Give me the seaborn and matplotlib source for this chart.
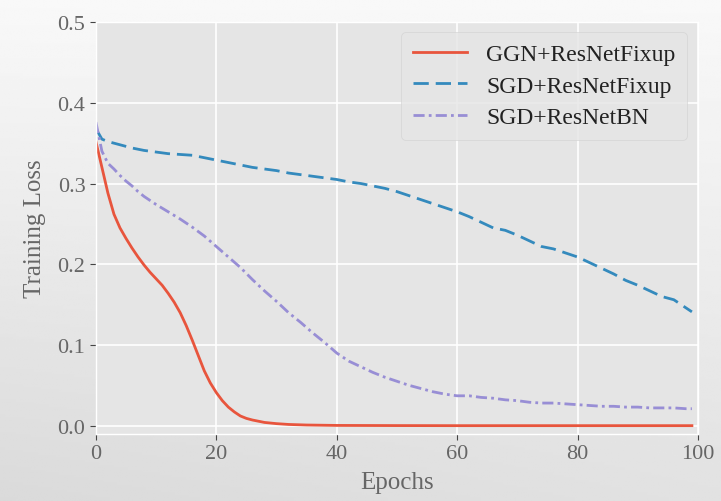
import numpy as np
import pandas as pd
import matplotlib
matplotlib.use("Agg")
import matplotlib.pyplot as plt
import seaborn as sns

# training loss curves
ggn_epochs = [0, 1, 2, 3, 4, 5, 6, 7, 8, 9, 10, 11, 12, 13, 14, 15, 16, 17, 18, 19,
              20, 21, 22, 23, 24, 25, 26, 28, 30, 32, 35, 40, 50, 60, 70, 80, 90, 99]
ggn_loss = [0.352, 0.32, 0.288, 0.262, 0.245, 0.232, 0.220, 0.209, 0.199, 0.190,
            0.182, 0.174, 0.164, 0.153, 0.140, 0.124, 0.106, 0.087, 0.068, 0.053,
            0.041, 0.031, 0.023, 0.017, 0.012, 0.009, 0.007, 0.004, 0.0025, 0.0015,
            0.0008, 0.0003, 0.0001, 0.0, 0.0, 0.0, 0.0, 0.0]

sgd_fixup_epochs = [0, 1, 2, 4, 6, 8, 10, 12, 14, 16, 18, 20, 22, 24, 26, 28, 30, 32,
                    34, 36, 38, 40, 42, 44, 46, 48, 50, 52, 54, 56, 58, 60, 62, 64,
                    66, 68, 70, 72, 74, 76, 78, 80, 82, 84, 86, 88, 90, 92, 94, 96, 98, 99]
sgd_fixup_loss = [0.368, 0.355, 0.352, 0.348, 0.344, 0.341, 0.339, 0.337, 0.336, 0.335,
                  0.332, 0.329, 0.326, 0.323, 0.320, 0.318, 0.316, 0.313, 0.311, 0.309,
                  0.307, 0.305, 0.302, 0.300, 0.297, 0.294, 0.290, 0.285, 0.280, 0.275,
                  0.270, 0.265, 0.259, 0.252, 0.245, 0.242, 0.236, 0.229, 0.222, 0.219,
                  0.214, 0.209, 0.202, 0.195, 0.188, 0.180, 0.174, 0.167, 0.160, 0.156,
                  0.146, 0.141]

sgd_bn_epochs = [0, 1, 2, 3, 4, 5, 6, 7, 8, 9, 10, 12, 14, 16, 18, 20, 22, 24, 26, 28,
                 30, 32, 34, 36, 38, 40, 42, 44, 46, 48, 50, 52, 54, 56, 58, 60, 62, 64,
                 66, 68, 70, 72, 74, 76, 78, 80, 82, 84, 86, 88, 90, 92, 94, 96, 98, 99]
sgd_bn_loss = [0.376, 0.34, 0.325, 0.318, 0.310, 0.303, 0.297, 0.290, 0.284, 0.279,
               0.274, 0.265, 0.256, 0.246, 0.235, 0.222, 0.209, 0.196, 0.181, 0.167,
               0.154, 0.140, 0.128, 0.115, 0.103, 0.090, 0.080, 0.073, 0.066, 0.060,
               0.055, 0.050, 0.046, 0.042, 0.039, 0.037, 0.037, 0.035, 0.034, 0.032,
               0.031, 0.029, 0.028, 0.028, 0.027, 0.026, 0.025, 0.024, 0.024, 0.023,
               0.023, 0.022, 0.022, 0.022, 0.021, 0.021]

labels = ["GGN+ResNetFixup", "SGD+ResNetFixup", "SGD+ResNetBN"]
colors = ["#E8553D", "#348ABD", "#988ED5"]
styles = ["-", (0, (5.5, 2.5)), (0, (4, 1.5, 1, 1.5))]

plt.style.use("ggplot")
plt.rcParams["font.family"] = ["Liberation Serif", "DejaVu Serif"]

fig = plt.figure(figsize=(7.21, 5.02), dpi=100)

# soft grey gradient behind everything
bg = fig.add_axes([0, 0, 1, 1], zorder=-1)
yy, xx = np.mgrid[0:1:200j, 0:1:200j]
shade = 0.975 - 0.09 * yy - 0.03 * (1 - xx) * yy
bg.imshow(shade, cmap="gray", vmin=0, vmax=1, aspect="auto", extent=[0, 1, 0, 1])
bg.axis("off")

ax = fig.add_axes([0.133, 0.134, 0.835, 0.82])
ax.set_facecolor("#E5E5E5")

series = [(ggn_epochs, ggn_loss), (sgd_fixup_epochs, sgd_fixup_loss), (sgd_bn_epochs, sgd_bn_loss)]
for (ep, loss), lab, col, ls in zip(series, labels, colors, styles):
    df = pd.DataFrame({"Epochs": ep, "Training Loss": loss})
    sns.lineplot(data=df, x="Epochs", y="Training Loss", ax=ax, color=col,
                 linestyle=ls, linewidth=2, label=lab)

ax.set_xlim(0, 100)
ax.set_ylim(-0.01, 0.5)
ax.set_xticks([0, 20, 40, 60, 80, 100])
ax.set_yticks([0.0, 0.1, 0.2, 0.3, 0.4, 0.5])
ax.set_yticklabels(["0.0", "0.1", "0.2", "0.3", "0.4", "0.5"])
ax.tick_params(labelsize=16, colors="#444444", length=4, labelcolor="#666666")
ax.set_xlabel("Epochs", fontsize=18, color="#666666", labelpad=6)
ax.set_ylabel("Training Loss", fontsize=18, color="#666666", labelpad=8)
ax.grid(True, color="white", linewidth=1.2)

leg = ax.legend(loc="upper right", fontsize=17, frameon=True, borderpad=0.5,
                handlelength=2.3, handletextpad=0.8, labelspacing=0.42,
                borderaxespad=0, bbox_to_anchor=(0.982, 0.976))
leg.get_frame().set_facecolor("#E5E5E5")
leg.get_frame().set_edgecolor("#d0d0d0")
for t in leg.get_texts():
    t.set_color("#222222")

fig.savefig("out.png", dpi=100)
